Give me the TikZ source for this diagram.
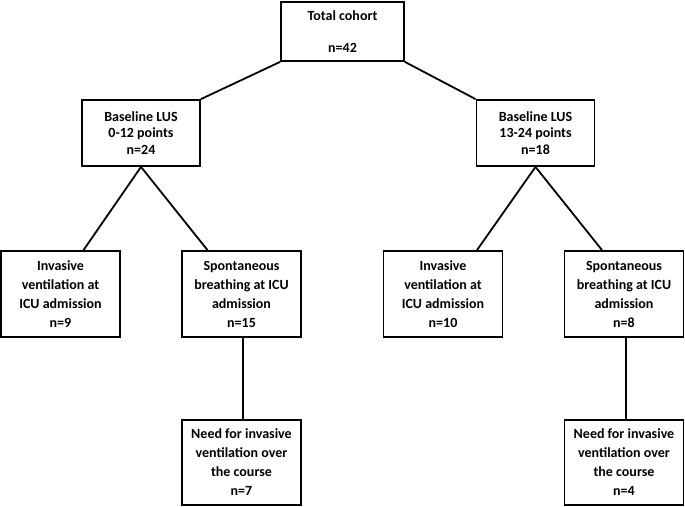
\documentclass[tikz,border=0pt]{standalone}
\usepackage{fontspec}
\setmainfont{Carlito}

\tikzset{
	box/.style={draw, line width=1.8pt, align=center, inner sep=0pt,
		font=\fontsize{14}{16.5}\selectfont\bfseries},
	upbox/.style={box, minimum width=118pt, minimum height=66pt},
	lowbox/.style={box, minimum width=119pt, minimum height=86pt,
		font=\fontsize{14}{19}\selectfont\bfseries},
	link/.style={line width=1.8pt}
}

\begin{document}
\begin{tikzpicture}[x=1pt,y=-1pt]

					\useasboundingbox (0,0) rectangle (685,506);

					% cohort
					\node [box, minimum width=123pt, minimum height=59pt] (total) at (342.5,31.5) {Total cohort\\[15pt]n=42};

					% baseline LUS
					\node [upbox] (lowlus) at (141,133) {Baseline LUS\\0-12 points\\n=24};
					\node [upbox] (highlus) at (535.5,133) {Baseline LUS\\13-24 points\\n=18};

					% at ICU admission
					\node [lowbox] (invlow) at (60.5,294) {Invasive\\ventilation at\\ICU admission\\n=9};
					\node [lowbox] (spontlow) at (241.5,294) {Spontaneous\\breathing at ICU\\admission\\n=15};
					\node [lowbox] (invhigh) at (443,294) {Invasive\\ventilation at\\ICU admission\\n=10};
					\node [lowbox] (sponthigh) at (624,294) {Spontaneous\\breathing at ICU\\admission\\n=8};

					% over the course
					\node [lowbox, minimum height=85pt] (needlow) at (241.5,462.5) {Need for invasive\\ventilation over\\the course\\n=7};
					\node [lowbox, minimum height=85pt] (needhigh) at (624,462.5) {Need for invasive\\ventilation over\\the course\\n=4};

					% connectors
					\draw [link] (total.south west) -- (lowlus.north east);
					\draw [link] (total.south east) -- (highlus.north west);
					\draw [link] (lowlus.south) -- ([xshift=23pt]invlow.north);
					\draw [link] (lowlus.south) -- ([xshift=-34pt]spontlow.north);
					\draw [link] (highlus.south) -- ([xshift=34pt]invhigh.north);
					\draw [link] (highlus.south) -- ([xshift=-22pt]sponthigh.north);
					\draw [link] ([xshift=1.5pt]spontlow.south) -- ([xshift=1.5pt]needlow.north);
					\draw [link] ([xshift=2pt]sponthigh.south) -- ([xshift=2pt]needhigh.north);

				\end{tikzpicture}
\end{document}
